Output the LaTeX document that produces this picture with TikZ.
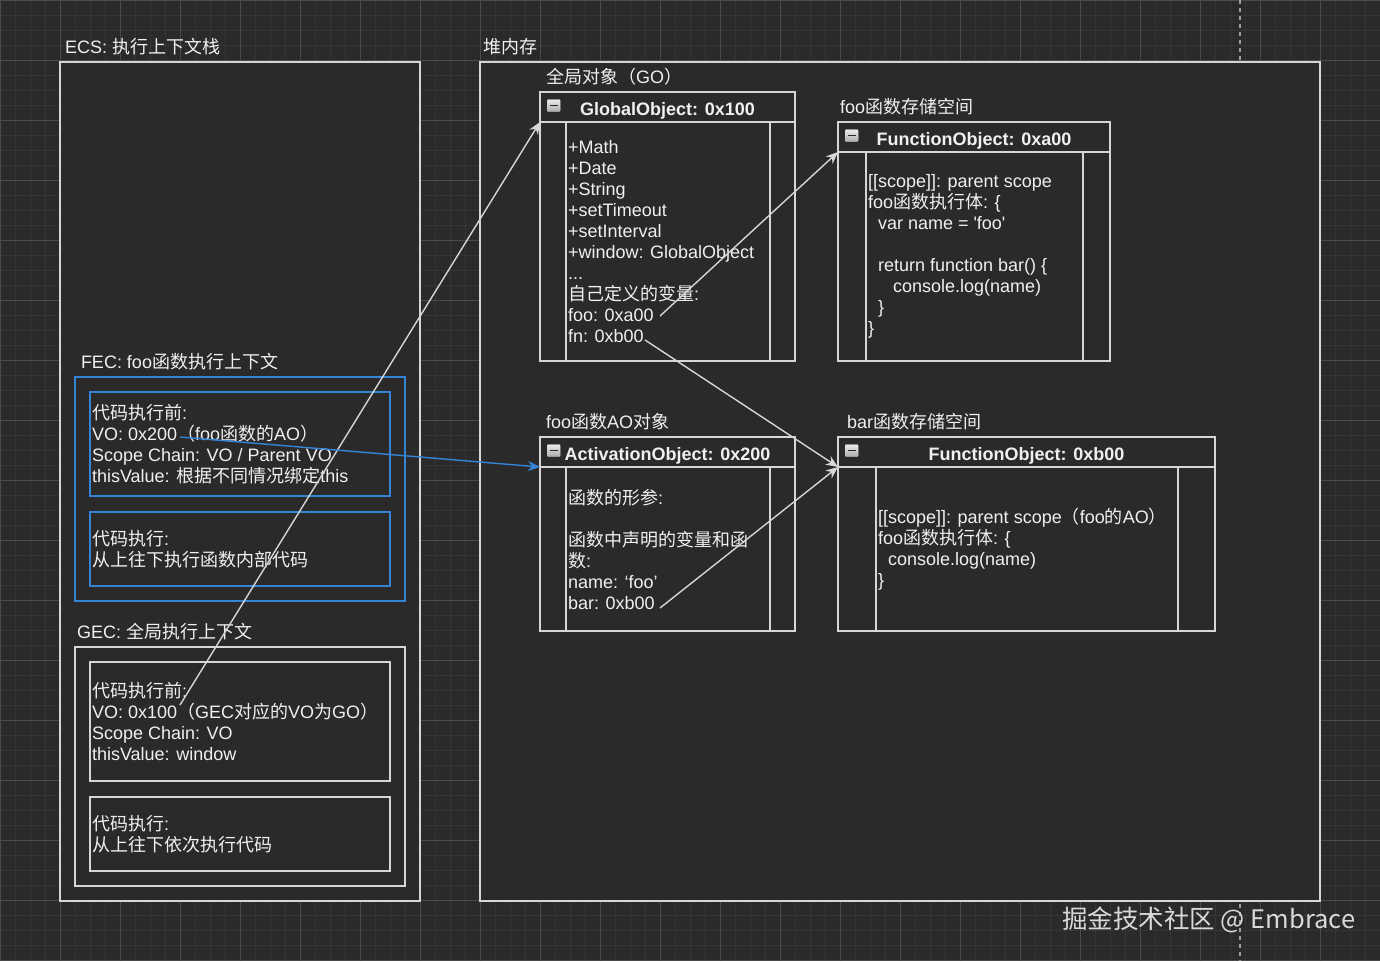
\documentclass[tikz,border=0pt]{standalone}
\usepackage{fontspec}
\setmainfont{Liberation Sans}[Ligatures=TeXOff]
\newfontfamily\cjkfont{Noto Sans CJK SC}
\newfontfamily\wmfont{Noto Sans CJK SC}
\usepackage{xcolor}
\usepackage{tikz}
\usetikzlibrary{positioning,arrows.meta}

\definecolor{bgc}{HTML}{2A2A2A}
\definecolor{gridminor}{HTML}{353535}
\definecolor{gridmajor}{HTML}{4A4A4A}
\definecolor{linec}{HTML}{D6D6D6}
\definecolor{txtc}{HTML}{F0F0F0}
\definecolor{fecblue}{HTML}{3584D6}

% Chinese characters switch to the CJK font by themselves
\XeTeXinterchartokenstate=1
\newXeTeXintercharclass\cjkclass
\newcount\cjkcode
\cjkcode="3000
\loop\ifnum\cjkcode<"3040 \XeTeXcharclass\cjkcode=\cjkclass \advance\cjkcode by 1 \repeat
\cjkcode="4E00
\loop\ifnum\cjkcode<"A000 \XeTeXcharclass\cjkcode=\cjkclass \advance\cjkcode by 1 \repeat
\cjkcode="FF00
\loop\ifnum\cjkcode<"FFF0 \XeTeXcharclass\cjkcode=\cjkclass \advance\cjkcode by 1 \repeat
\XeTeXinterchartoks 0 \cjkclass = {\cjkfont}
\XeTeXinterchartoks 4095 \cjkclass = {\cjkfont}
\XeTeXinterchartoks \cjkclass 0 = {\normalfont}
\XeTeXinterchartoks \cjkclass 4095 = {\normalfont}

\begin{document}
\begin{tikzpicture}[x=1pt, y=-1pt,
        objbox/.style={draw=linec, fill=bgc, line width=1.8pt, inner sep=0pt, outer sep=0pt, anchor=north west},
        txt/.style={text=txtc, font=\fontsize{18}{21}\selectfont, inner sep=0pt, outer sep=0pt},
        body/.style={txt, align=left},
        head/.style={txt, font=\fontsize{18}{21}\selectfont\bfseries, anchor=base, yshift=-8.5pt},
        minusicon/.style={draw=gray!35, top color=gray!15, bottom color=gray!65, minimum width=13pt, minimum height=12pt, inner sep=0pt, rounded corners=1pt, yshift=1.5pt,
            path picture={\draw[black!85, line width=1.6pt] ([xshift=2.5pt]path picture bounding box.west) -- ([xshift=-2.5pt]path picture bounding box.east);}},
        ptr/.style={draw=linec, line width=1.4pt, -{Stealth[length=12pt, width=10pt]}},
        pagebreak/.style={draw=gray!75, line width=1.5pt, dash pattern=on 4pt off 4pt},
        wm/.style={text=gray!30, inner sep=0pt, font={\wmfont\fontsize{25.5}{29}\selectfont\XeTeXinterchartokenstate=0}}]
    \useasboundingbox (0,0) rectangle (1380,961);
    \fill[bgc] (0,0) rectangle (1380,961); % canvas
    \draw[gridminor, line width=1pt, step=15pt] (0,961) grid (1380,0); % small grid
    \draw[gridmajor, line width=1pt, step=60pt] (0,961) grid (1380,0); % big grid
    \draw[pagebreak] (1240,0) -- (1240,961); % page break

    % ECS side
    \node[objbox, minimum width=360pt, minimum height=839pt] (ecs) at (60,62) {}; % ECS frame
    \node[txt, above right=7pt and 5pt of ecs.north west] (ecsLbl) {ECS: 执行上下文栈};
    \node[objbox, draw=fecblue, minimum width=330pt, minimum height=224pt] (fec) at (75,377) {}; % FEC frame
    \node[txt, above right=7pt and 6pt of fec.north west] (fecLbl) {FEC: foo函数执行上下文};
    \node[objbox, draw=fecblue, minimum width=300pt, minimum height=104pt, below right=15pt and 15pt of fec.north west] (fecPre) {}; % before running
    \node[body, right=2pt of fecPre.west] (fecPreTxt) {代码执行前:\\VO: 0x200（foo函数的AO）\\Scope Chain: VO / Parent VO\\thisValue: 根据不同情况绑定this};
    \node[objbox, draw=fecblue, minimum width=300pt, minimum height=74pt, below right=16pt and 0pt of fecPre.south west] (fecRun) {}; % running
    \node[body, right=2pt of fecRun.west] (fecRunTxt) {代码执行:\\从上往下执行函数内部代码};
    \node[objbox, minimum width=330pt, minimum height=239pt] (gec) at (75,647) {}; % GEC frame
    \node[txt, above right=7pt and 2pt of gec.north west] (gecLbl) {GEC: 全局执行上下文};
    \node[objbox, minimum width=300pt, minimum height=119pt, below right=15pt and 15pt of gec.north west] (gecPre) {}; % before running
    \node[body, right=2pt of gecPre.west] (gecPreTxt) {代码执行前:\\VO: 0x100（GEC对应的VO为GO）\\Scope Chain: VO\\thisValue: window};
    \node[objbox, minimum width=300pt, minimum height=74pt, below right=16pt and 0pt of gecPre.south west] (gecRun) {}; % running
    \node[body, right=2pt of gecRun.west] (gecRunTxt) {代码执行:\\从上往下依次执行代码};

    % heap side
    \node[objbox, minimum width=840pt, minimum height=839pt] (heap) at (480,62) {}; % heap frame
    \node[txt, above right=7pt and 3pt of heap.north west] (heapLbl) {堆内存};

    \node[objbox, minimum width=255pt, minimum height=269pt, below right=30pt and 60pt of heap.north west] (go) {}; % global object
    \node[objbox, minimum width=255pt, minimum height=30pt] (goHead) at (go.north west) {};
    \node[objbox, minimum width=204pt, minimum height=239pt, below right=30pt and 26pt of go.north west] (goBody) {};
    \node[txt, above right=7pt and 6pt of go.north west] (goLbl) {全局对象（GO）};
    \node[minusicon, right=7pt of goHead.west] (goMinus) {};
    \node[head] (goTitle) at (goHead) {GlobalObject: 0x100};
    \node[body, right=2pt of goBody.west] (goTxt) {+Math\\+Date\\+String\\+setTimeout\\+setInterval\\+window: GlobalObject\\...\\自己定义的变量:\\foo: 0xa00\\fn: 0xb00};

    \node[objbox, minimum width=272pt, minimum height=239pt, below right=30pt and 43pt of go.north east] (fooObj) {}; % foo function object
    \node[objbox, minimum width=272pt, minimum height=30pt] (fooHead) at (fooObj.north west) {};
    \node[objbox, minimum width=217pt, minimum height=209pt, below right=30pt and 28pt of fooObj.north west] (fooBody) {};
    \node[txt, above right=7pt and 2pt of fooObj.north west] (fooLbl) {foo函数存储空间};
    \node[minusicon, right=7pt of fooHead.west] (fooMinus) {};
    \node[head] (fooTitle) at (fooHead) {FunctionObject: 0xa00};
    \node[body, right=2pt of fooBody.west] (fooTxt) {[[scope]]: parent scope\\foo函数执行体: \{\\\hspace*{10pt}var name = 'foo'\\[21pt]\hspace*{10pt}return function bar() \{\\\hspace*{25pt}console.log(name)\\\hspace*{10pt}\}\\\}};

    \node[objbox, minimum width=255pt, minimum height=194pt, below right=76pt and 0pt of go.south west] (ao) {}; % activation object
    \node[objbox, minimum width=255pt, minimum height=30pt] (aoHead) at (ao.north west) {};
    \node[objbox, minimum width=204pt, minimum height=164pt, below right=30pt and 26pt of ao.north west] (aoBody) {};
    \node[txt, above right=7pt and 6pt of ao.north west] (aoLbl) {foo函数AO对象};
    \node[minusicon, right=7pt of aoHead.west] (aoMinus) {};
    \node[head] (aoTitle) at (aoHead) {ActivationObject: 0x200};
    \node[body, right=2pt of aoBody.west] (aoTxt) {函数的形参:\\[21pt]函数中声明的变量和函\\数:\\name: ‘foo’\\bar: 0xb00};

    \node[objbox, minimum width=377pt, minimum height=194pt, below right=76pt and 0pt of fooObj.south west] (barObj) {}; % bar function object
    \node[objbox, minimum width=377pt, minimum height=30pt] (barHead) at (barObj.north west) {};
    \node[objbox, minimum width=302pt, minimum height=164pt, below right=30pt and 38pt of barObj.north west] (barBody) {};
    \node[txt, above right=7pt and 9pt of barObj.north west] (barLbl) {bar函数存储空间};
    \node[minusicon, right=7pt of barHead.west] (barMinus) {};
    \node[head] (barTitle) at (barHead) {FunctionObject: 0xb00};
    \node[body, right=2pt of barBody.west] (barTxt) {[[scope]]: parent scope（foo的AO）\\foo函数执行体: \{\\\hspace*{10pt}console.log(name)\\\}};

    % pointers
    \coordinate (gecVO) at (180,705); % end of 0x100
    \coordinate (fecVO) at (180,437); % end of 0x200
    \coordinate (goFoo) at (660,316); % foo: 0xa00
    \coordinate (goFn) at (645,340); % fn: 0xb00
    \coordinate (aoBar) at (660,608); % bar: 0xb00
    \draw[ptr] (gecVO) -- (goHead.south west);
    \draw[ptr, draw=fecblue] (fecVO) -- (aoHead.south west);
    \draw[ptr] (goFoo) -- (fooHead.south west);
    \draw[ptr] (goFn) -- (barHead.south west);
    \draw[ptr] (aoBar) -- (barHead.south west);

    \node[wm, anchor=west] (wm) at (1062,920) {掘金技术社区 @ Embrace}; % watermark
\end{tikzpicture}
\end{document}
